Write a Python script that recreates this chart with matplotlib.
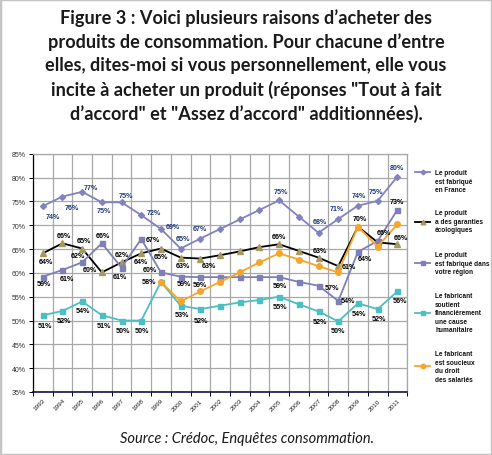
import numpy as np
import matplotlib.pyplot as plt
from matplotlib.lines import Line2D
from matplotlib.patches import Rectangle

#-----------------------------------------------------------------------------
# data

years = [str(y) for y in range(1993, 2012)]

france = [74.0, 76.0, 77.0, 74.8, 74.8, 72.1, 69.2, 65.1, 67.2, 69.2,
          71.2, 73.2, 75.2, 71.8, 68.4, 71.3, 74.1, 75.1, 80.2]
ecolo = [64.1, 66.2, 65.1, 60.1, 62.2, 64.1, 65.1, 63.2, 63.0, 63.7,
         64.5, 65.4, 66.0, 64.6, 63.2, 61.4, 69.7, 66.4, 66.0]
region = [59.2, 60.6, 62.2, 66.2, 61.1, 67.1, 60.1, 59.2, 59.1, 59.1,
          59.1, 59.1, 59.1, 58.1, 57.3, 54.1, 64.4, 66.7, 73.2]
humanit = [51.1, 52.0, 54.0, 51.1, 50.0, 50.0, 58.1, 53.1, 52.4, 53.1,
           53.8, 54.3, 55.0, 53.4, 51.9, 49.8, 53.6, 52.4, 56.1]
salaries = [np.nan] * 6 + [58.1, 54.0, 56.1, 58.1, 60.1, 62.2, 64.1,
                           62.8, 61.4, 60.1, 69.7, 65.5, 70.2]

legend_labels = ["Le produit\nest fabriqué\nen France",
                 "Le produit\na des garanties\nécologiques",
                 "Le produit\nest fabriqué dans\nvotre région",
                 "Le fabricant\nsoutient\nfinancièrement\nune cause\nhumanitaire",
                 "Le fabricant\nest soucieux\ndu droit\ndes salariés"]

title = ("Figure 3 : Voici plusieurs raisons d’acheter des\n"
         "produits de consommation. Pour chacune d’entre\n"
         "elles, dites-moi si vous personnellement, elle vous\n"
         "incite à acheter un produit (réponses \"Tout à fait\n"
         "d’accord\" et \"Assez d’accord\" additionnées).")
source = "Source : Crédoc, Enquêtes consommation."

#-----------------------------------------------------------------------------
# which points carry a value label, and where (pixel offset dx, dy-down)

lab_france = {0: (10, 10), 1: (9, 11), 2: (9, -4), 3: (2, 8), 4: (4, -7),
              5: (13, -3), 6: (12, -3), 7: (2, -10), 8: (0, -10), 12: (2, -9),
              14: (1, -11), 15: (-1, -10), 16: (1, -10), 17: (-2, -9), 18: (0, -9)}
lab_ecolo = {0: (3, 8), 1: (1, -8), 2: (2, -8), 3: (-12, -3), 4: (0, -8),
             5: (0, 8), 6: (0, 8), 7: (2, 8), 8: (9, 7), 12: (0, -8),
             14: (1, -7), 15: (11, 0), 16: (2, -8), 17: (6, -10), 18: (4, -7)}
lab_region = {0: (1, 7), 1: (4, 9), 2: (-4, -7), 3: (1, -8), 4: (-2, 9),
              5: (12, 0), 6: (-11, -3), 7: (3, 7), 8: (0, 7), 12: (1, 8),
              14: (13, 2), 15: (10, 0), 16: (7, 7), 18: (0, -8)}
lab_humanit = {0: (2, 10), 1: (2, 10), 2: (1, 9), 3: (2, 10), 4: (1, 10),
               5: (1, 10), 7: (1, 9), 8: (1, 11), 12: (1, 10), 14: (1, 10),
               15: (0, 9), 16: (1, 10), 17: (1, 9), 18: (3, 9)}
lab_salaries = {6: (-12, 0)}

#-----------------------------------------------------------------------------

W, H = 492, 456
plt.rcParams['font.family'] = ['Liberation Sans', 'DejaVu Sans']
fig = plt.figure(figsize=(W / 100, H / 100), dpi=100)

def fx(px):
    return px / W

def fy(py):
    return 1 - py / H

ax = fig.add_axes([fx(32.9), fy(393), fx(407.2) - fx(32.9), fy(154.7) - fy(393)])

x = np.arange(len(years))
series = [
    (france, '#8282c0', '#8282c0', 'D', 3.0, '#1f3a78', lab_france),
    (ecolo, '#000000', '#a59a62', '^', 4.2, '#000000', lab_ecolo),
    (region, '#7f7fb8', '#7f7fb8', 's', 3.6, '#000000', lab_region),
    (humanit, '#4cbfc4', '#4cbfc4', 's', 3.6, '#000000', lab_humanit),
    (salaries, '#f7a52a', '#f7a52a', 'o', 4.0, '#000000', lab_salaries),
]

for vals, lc, mc, mk, ms, tc, labs in series:
    ax.plot(x, vals, color=lc, lw=1.3, marker=mk, ms=ms, mfc=mc, mec=mc, zorder=3)
    for i, (dx, dy) in labs.items():
        v = vals[i]
        ax.annotate(f"{int(round(v))}%", (x[i], v), xytext=(dx * 0.72, -dy * 0.72),
                    textcoords='offset points', ha='center', va='center',
                    fontsize=5.1, fontweight='bold', color=tc, zorder=4)

ax.set_xlim(-0.5, len(years) - 0.5)
ax.set_ylim(35, 85)
ax.set_yticks(np.arange(35, 86, 5))
ax.set_yticklabels([f"{v}%" for v in range(35, 86, 5)], fontsize=5, color='#333333')
ax.set_xticks(x)
ax.set_xticklabels(years, rotation=45, ha='right', rotation_mode='anchor',
                   fontsize=4.6, color='#222222')
ax.set_xticks(np.arange(-0.5, len(years), 1), minor=True)
ax.tick_params(axis='x', which='major', length=0, pad=4)
ax.tick_params(axis='x', which='minor', length=3, width=0.7, color='#000033')
ax.tick_params(axis='y', length=3, width=0.7, pad=2)
ax.grid(axis='y', color='#a8a8a8', lw=0.9)
ax.grid(axis='x', which='minor', color='#a8a8a8', lw=0.9)
ax.set_axisbelow(True)
ax.spines['left'].set_color('#000000')
ax.spines['bottom'].set_color('#000033')
ax.spines['left'].set_linewidth(0.9)
ax.spines['bottom'].set_linewidth(1.1)
for s in ['top', 'right']:
    ax.spines[s].set_color('#a8a8a8')
    ax.spines[s].set_linewidth(0.9)

# legend, drawn by hand on the right
leg_marker_y = [173, 222.7, 264.3, 313.7, 367.3]
leg_text_y = [182.3, 222.3, 264.3, 313.6, 367.3]
for (vals, lc, mc, mk, ms, tc, labs), lab, my, ty in zip(series, legend_labels,
                                                        leg_marker_y, leg_text_y):
    fig.add_artist(Line2D([fx(415), fx(422.5), fx(430)], [fy(my)] * 3,
                          transform=fig.transFigure, color=lc, lw=1.3,
                          marker=mk, ms=ms * 0.8, mfc=mc, mec=mc, markevery=[1]))
    fig.text(fx(435), fy(ty), lab, fontsize=4.7, fontweight='bold',
             ha='left', va='center', linespacing=1.3, color='#111111')

fig.text(0.5, fy(66.3), title, ha='center', va='center', fontsize=13.1,
         family='Lato', fontweight='bold', linespacing=1.43, color='#1a1a1a')
fig.text(fx(247), fy(439), source, ha='center', va='center', fontsize=10.5,
         family='Lato', style='italic', color='#1a1a1a')

fig.add_artist(Rectangle((0, 0), 1, 1, transform=fig.transFigure, fill=False,
                         edgecolor='#c4c4c4', lw=2.5))

fig.savefig('out.png', dpi=100)
